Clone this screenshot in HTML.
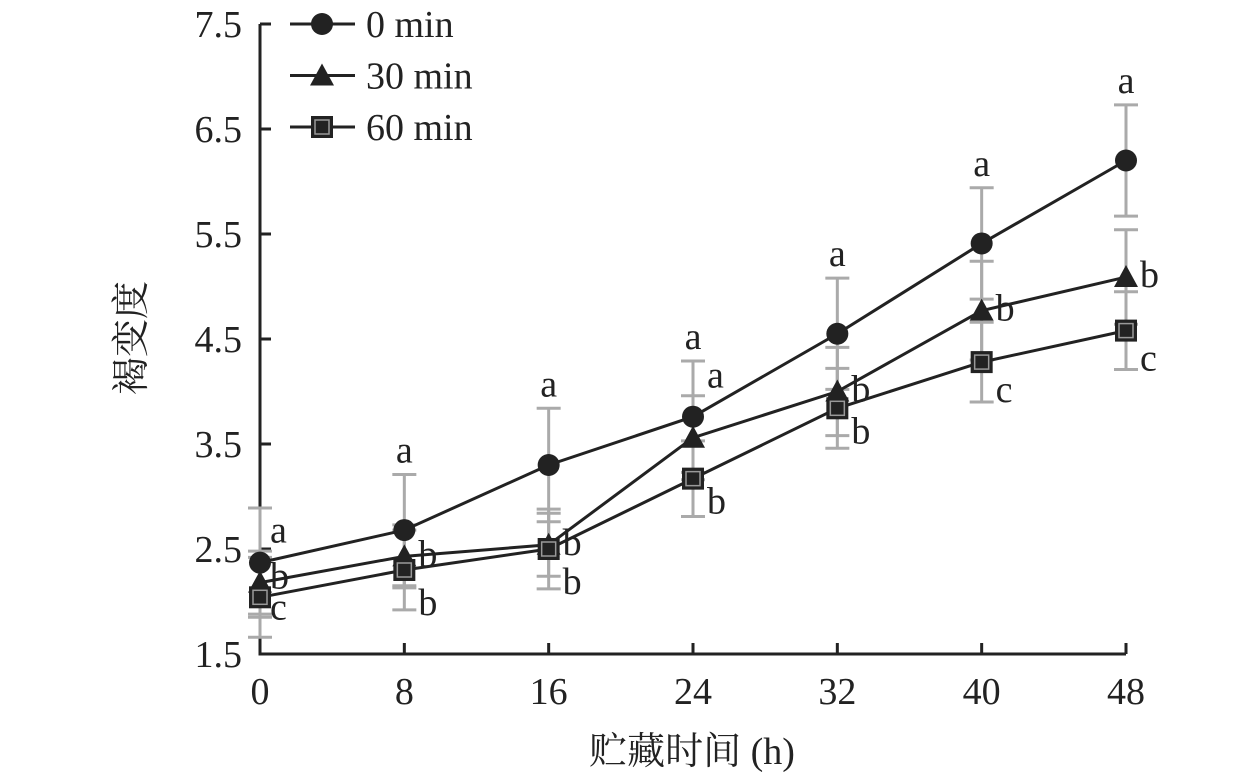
<!DOCTYPE html>
<html><head><meta charset="utf-8"><style>
body{margin:0;background:#fff}
svg{display:block;font-family:"Liberation Serif","Noto Serif CJK SC",serif}
</style></head><body>
<svg width="1260" height="783" viewBox="0 0 1260 783">
<g id="axes"></g><g id="plot"></g><g id="legend"></g>
</svg>
<script>
const xCats=[0,8,16,24,32,40,48];
const yTicks=[1.5,2.5,3.5,4.5,5.5,6.5,7.5];
const yTickLabels=["1.5","2.5","3.5","4.5","5.5","6.5","7.5"];
const seriesNames=["0 min","30 min","60 min"];
const s0=[2.37,2.68,3.30,3.76,4.55,5.41,6.20];
const s30=[2.18,2.43,2.54,3.56,4.00,4.77,5.09];
const s60=[2.04,2.30,2.50,3.17,3.84,4.28,4.58];
const e0=[0.52,0.53,0.54,0.53,0.53,0.53,0.53];
const e30=[0.30,0.30,0.30,0.40,0.42,0.47,0.45];
const e60=[0.38,0.38,0.38,0.36,0.38,0.38,0.37];
const l0=["a","a","a","a","a","a","a"];
const l30=["b","b","b","a","b","b","b"];
const l60=["c","b","b","b","b","c","c"];

const NS="http://www.w3.org/2000/svg";
const X0=260,X1=1126,Y0=654,Y1=24;
const FS=38;
const xS=v=>X0+(v-0)/(48-0)*(X1-X0);
const yS=v=>Y0-(v-1.5)/(7.5-1.5)*(Y0-Y1);
function mk(tag,attrs,parent){const e=document.createElementNS(NS,tag);for(const k in attrs)e.setAttribute(k,attrs[k]);parent.appendChild(e);return e;}
const axes=document.getElementById('axes'),plot=document.getElementById('plot'),leg=document.getElementById('legend');

let a=mk('path',{d:`M${X0},${Y1}V${Y0}H${X1}`,fill:'none',stroke:'#222','stroke-width':3},axes);


yTicks.forEach((v,i)=>{
 let t=mk('line',{x1:X0,x2:X0+11,y1:yS(v),y2:yS(v),stroke:'#222','stroke-width':3},axes);
 
 
 let tx=mk('text',{x:X0-18,y:yS(v)+13,'text-anchor':'end','font-size':FS,fill:'#222'},axes);
 tx.textContent=yTickLabels[i];
 
 
});
xCats.forEach(v=>{
 let t=mk('line',{x1:xS(v),x2:xS(v),y1:Y0,y2:Y0-11,stroke:'#222','stroke-width':3},axes);
 
 
 let tx=mk('text',{x:xS(v),y:704,'text-anchor':'middle','font-size':FS,fill:'#222'},axes);
 tx.textContent=String(v);
 
 
});
let xt=mk('text',{x:692,y:764,'text-anchor':'middle','font-size':FS,fill:'#222'},axes);
xt.textContent="贮藏时间 (h)";


let yt=mk('text',{x:0,y:0,'text-anchor':'middle','font-size':FS,fill:'#222',transform:'translate(144,338) rotate(-90)'},axes);
yt.textContent="褐变度";



function marker(type,x,y,parent){
 let m;
 if(type===0)m=mk('circle',{cx:x,cy:y,r:11,fill:'#222'},parent);
 else if(type===1)m=mk('path',{d:`M${x},${y-12}L${x+12},${y+10}L${x-12},${y+10}Z`,fill:'#222'},parent);
 else{m=mk('g',{},parent);mk('rect',{x:x-11,y:y-11,width:22,height:22,fill:'#222'},m);mk('rect',{x:x-7,y:y-7,width:14,height:14,fill:'none',stroke:'#999','stroke-width':1.5},m);}
 return m;
}
const all=[[s0,e0,l0],[s30,e30,l30],[s60,e60,l60]];
all.forEach(([s,e],k)=>{
 s.forEach((v,i)=>{
  const x=xS(xCats[i]);
  let g=mk('path',{d:`M${x},${yS(v+e[i])}V${yS(v-e[i])}M${x-12},${yS(v+e[i])}h24M${x-12},${yS(v-e[i])}h24`,stroke:'#aaa','stroke-width':3,fill:'none'},plot);
  
  
 });
});
all.forEach(([s,e,l],k)=>{
 let p=mk('polyline',{points:s.map((v,i)=>xS(xCats[i])+','+yS(v)).join(' '),fill:'none',stroke:'#222','stroke-width':3},plot);
 
 
 s.forEach((v,i)=>{
  const x=xS(xCats[i]),y=yS(v);
  let m=marker(k,x,y,plot);
  
  
  let lx,ly;
  if(k===0){ if(i===0){lx=x+10;ly=y-20;} else {lx=x;ly=yS(v+e[i])-12;} }
  else if(k===1){lx=x+(i===0?10:14);ly=y+(i===3?-50:(i===0?6:10));}
  else {lx=x+(i===0?10:14);ly=y+(i===1||i===2?45:(i===0?22:(i>=5?40:35)));}
  let t=mk('text',{x:lx,y:ly,'text-anchor':(k===0&&i>0)?'middle':'start','font-size':FS,fill:'#222'},plot);
  t.textContent=l[i];
  
  
 });
});
seriesNames.forEach((n,k)=>{
 const y=24+k*51.5;
 let g=mk('g',{},leg);
 
 
 mk('line',{x1:290,x2:355,y1:y,y2:y,stroke:'#222','stroke-width':3},g);
 marker(k,322,y,g);
 let t=mk('text',{x:366,y:y+13,'font-size':FS,fill:'#222'},g);
 t.textContent=n;
});
</script>
</body></html>
